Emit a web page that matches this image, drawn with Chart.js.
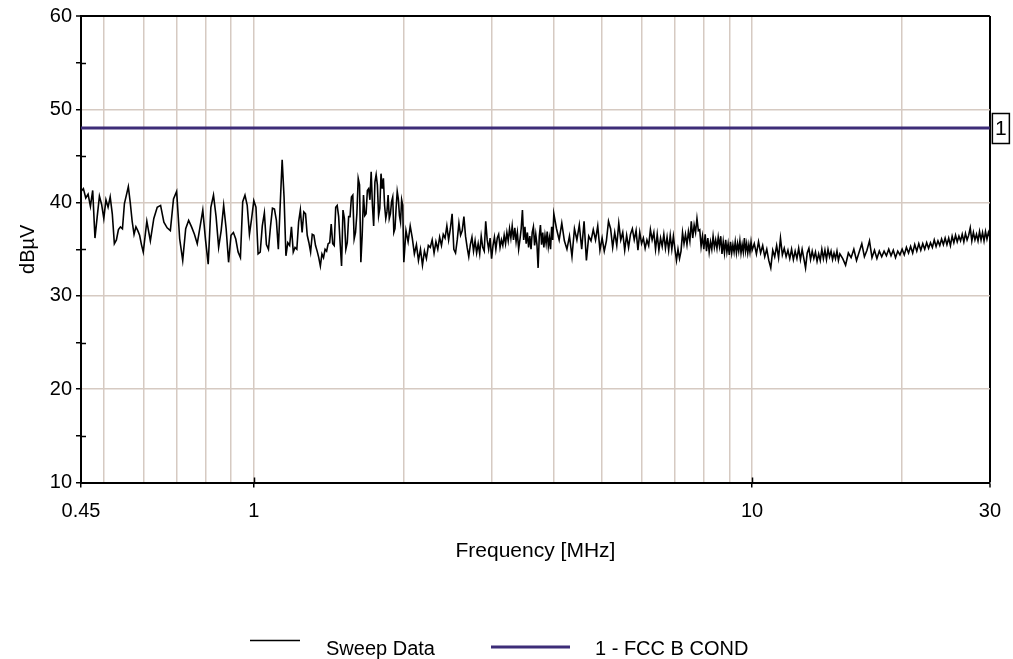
<!DOCTYPE html>
<html>
<head>
<meta charset="utf-8">
<title>Sweep Data - FCC B COND</title>
<script src="https://cdn.jsdelivr.net/npm/chart.js@4.4.1/dist/chart.umd.min.js"></script>
<style>
  html, body { margin: 0; padding: 0; background: #fff; }
  canvas { display: block; }
</style>
</head>
<body>
<canvas id="emiChart" width="1013" height="659"></canvas>
<script>
// Sweep data (MHz / dBµV)
const freqA = [0.450, 0.455, 0.460, 0.465, 0.470, 0.475, 0.480, 0.485, 0.490, 0.495,
  0.500, 0.505, 0.510, 0.515, 0.520, 0.525, 0.530, 0.535, 0.540, 0.545,
  0.550, 0.555, 0.560, 0.565, 0.570, 0.575, 0.580, 0.585, 0.590, 0.595, 0.600];
const levelA = [41.2, 41.5, 40.5, 40.9, 39.6, 41.3, 36.2, 38.5, 40.7, 39.8,
  38.3, 40.3, 39.5, 40.6, 38.8, 35.6, 36.0, 37.1, 37.4, 37.2,
  39.9, 40.8, 41.7, 40.0, 38.0, 36.6, 37.4, 37.0, 36.5, 35.5, 34.7];

const freqB = [0.61, 0.62, 0.63, 0.64, 0.65, 0.66, 0.67, 0.68, 0.69, 0.70,
  0.71, 0.72, 0.73, 0.74, 0.75, 0.76, 0.77, 0.78, 0.79, 0.80,
  0.81, 0.82, 0.83, 0.84, 0.85, 0.86, 0.87, 0.88, 0.89, 0.90,
  0.91, 0.92, 0.93, 0.94, 0.95, 0.96, 0.97, 0.98, 0.99, 1.00];
const levelB = [38.0, 35.9, 38.3, 39.5, 39.7, 37.9, 37.3, 37.0, 40.4, 41.2,
  36.1, 33.8, 37.2, 38.1, 37.4, 36.6, 35.6, 37.4, 39.2, 36.0,
  33.4, 39.5, 40.8, 38.5, 35.2, 37.0, 39.7, 37.2, 33.6, 36.5,
  36.8, 36.1, 34.7, 34.1, 40.1, 40.8, 39.7, 36.6, 38.3, 40.2];

const freqC = [1.01, 1.02, 1.03, 1.04, 1.05, 1.06, 1.07, 1.08, 1.09, 1.10,
  1.11, 1.12, 1.13, 1.14, 1.15, 1.16, 1.17, 1.18, 1.19, 1.20,
  1.21, 1.22, 1.23, 1.24, 1.25, 1.26, 1.27, 1.28, 1.29, 1.30,
  1.31, 1.32, 1.33, 1.34, 1.35, 1.36, 1.37, 1.38, 1.39, 1.40,
  1.41, 1.42, 1.43, 1.44, 1.45, 1.46, 1.47, 1.48, 1.49, 1.50,
  1.51, 1.52, 1.53, 1.54, 1.55, 1.56, 1.57, 1.58, 1.59, 1.60,
  1.61, 1.62, 1.63, 1.64, 1.65, 1.66, 1.67, 1.68, 1.69, 1.70,
  1.71, 1.72, 1.73, 1.74, 1.75, 1.76, 1.77, 1.78, 1.79, 1.80,
  1.81, 1.82, 1.83, 1.84, 1.85, 1.86, 1.87, 1.88, 1.89, 1.90,
  1.91, 1.92, 1.93, 1.94, 1.95, 1.96, 1.97, 1.98, 1.99, 2.00];
const levelC = [39.5, 34.5, 34.7, 37.5, 38.9, 35.5, 35.0, 37.4, 39.4, 39.3,
  38.1, 35.0, 39.9, 44.6, 40.6, 34.3, 35.7, 35.4, 37.4, 34.7,
  35.2, 35.0, 37.9, 39.2, 36.8, 39.0, 38.8, 36.5, 35.7, 34.7,
  36.6, 36.5, 35.4, 34.8, 34.1, 33.2, 34.5, 34.1, 35.0, 34.8,
  35.6, 35.7, 37.7, 35.6, 35.4, 39.5, 39.7, 38.5, 35.7, 33.2,
  39.2, 38.3, 35.0, 35.7, 38.5, 38.5, 40.6, 40.8, 36.1, 36.8,
  38.8, 42.6, 41.9, 33.6, 36.5, 40.8, 38.6, 38.8, 41.3, 41.5,
  40.3, 43.3, 39.7, 37.5, 42.2, 43.0, 41.9, 38.6, 39.4, 43.1,
  41.5, 42.6, 39.7, 38.3, 39.0, 40.8, 38.3, 38.8, 40.1, 40.6,
  36.8, 37.2, 39.4, 41.2, 40.4, 38.6, 37.9, 40.3, 39.7, 33.6];

const freqD = [2.02, 2.04, 2.06, 2.08, 2.10, 2.12, 2.14, 2.16, 2.18, 2.20,
  2.22, 2.24, 2.26, 2.28, 2.30, 2.32, 2.34, 2.36, 2.38, 2.40,
  2.42, 2.44, 2.46, 2.48, 2.50, 2.52, 2.54, 2.56, 2.58, 2.60,
  2.62, 2.64, 2.66, 2.68, 2.70, 2.72, 2.74, 2.76, 2.78, 2.80,
  2.82, 2.84, 2.86, 2.88, 2.90, 2.92, 2.94, 2.96, 2.98, 3.00,
  3.02, 3.04, 3.06, 3.08, 3.10, 3.12, 3.14, 3.16, 3.18, 3.20,
  3.22, 3.24, 3.26, 3.28, 3.30, 3.32, 3.34, 3.36, 3.38, 3.40,
  3.42, 3.44, 3.46, 3.48, 3.50, 3.52, 3.54, 3.56, 3.58, 3.60,
  3.62, 3.64, 3.66, 3.68, 3.70, 3.72, 3.74, 3.76, 3.78, 3.80,
  3.82, 3.84, 3.86, 3.88, 3.90, 3.92, 3.94, 3.96, 3.98, 4.00];
const levelD = [37.0, 35.8, 37.5, 36.2, 34.5, 35.5, 33.8, 35.0, 33.3, 34.8,
  34.0, 35.4, 35.2, 36.0, 34.6, 35.8, 35.0, 36.3, 35.4, 36.6,
  36.2, 37.5, 36.0, 37.2, 38.8, 35.0, 34.6, 36.0, 37.8, 36.5,
  37.0, 38.5, 36.4, 35.2, 34.2, 35.5, 36.3, 34.8, 35.9, 34.6,
  35.6, 34.5, 36.4, 35.2, 34.8, 38.0, 36.0, 35.0, 36.2, 34.0,
  35.4, 36.3, 35.0, 36.2, 36.6, 35.2, 36.0, 35.4, 36.5, 35.6,
  36.8, 35.9, 37.2, 36.2, 37.5, 36.0, 37.3, 35.8, 36.8, 35.0,
  36.0, 37.2, 39.2, 36.0, 37.4, 35.6, 36.8, 35.2, 36.4, 35.0,
  36.8, 37.4, 35.4, 36.6, 35.5, 33.0, 36.4, 37.6, 35.5, 36.8,
  35.2, 36.5, 35.6, 36.9, 35.3, 36.2, 35.0, 37.4, 36.0, 38.8];

const freqE = [4.05, 4.10, 4.15, 4.20, 4.25, 4.30, 4.35, 4.40, 4.45, 4.50,
  4.55, 4.60, 4.65, 4.70, 4.75, 4.80, 4.85, 4.90, 4.95, 5.00,
  5.05, 5.10, 5.15, 5.20, 5.25, 5.30, 5.35, 5.40, 5.45, 5.50,
  5.55, 5.60, 5.65, 5.70, 5.75, 5.80, 5.85, 5.90, 5.95, 6.00,
  6.05, 6.10, 6.15, 6.20, 6.25, 6.30, 6.35, 6.40, 6.45, 6.50,
  6.55, 6.60, 6.65, 6.70, 6.75, 6.80, 6.85, 6.90, 6.95, 7.00,
  7.05, 7.10, 7.15, 7.20, 7.25, 7.30, 7.35, 7.40, 7.45, 7.50,
  7.55, 7.60, 7.65, 7.70, 7.75, 7.80, 7.85, 7.90, 7.95, 8.00,
  8.05, 8.10, 8.15, 8.20, 8.25, 8.30, 8.35, 8.40, 8.45, 8.50,
  8.55, 8.60, 8.65, 8.70, 8.75, 8.80, 8.85, 8.90, 8.95, 9.00,
  9.05, 9.10, 9.15, 9.20, 9.25, 9.30, 9.35, 9.40, 9.45, 9.50,
  9.55, 9.60, 9.65, 9.70, 9.75, 9.80, 9.85, 9.90, 9.95, 10.00];
const levelE = [37.2, 36.0, 37.8, 35.9, 35.0, 36.4, 34.2, 37.2, 36.0, 37.6,
  35.0, 38.0, 33.8, 36.4, 35.9, 37.1, 36.0, 37.5, 34.9, 36.2,
  34.8, 35.9, 38.0, 37.2, 35.2, 36.8, 35.4, 37.8, 36.0, 36.8,
  34.9, 36.5, 35.2, 36.6, 37.2, 36.0, 37.0, 34.9, 36.8, 35.6,
  36.2, 35.1, 36.0, 35.4, 37.1, 36.0, 36.8, 35.0, 36.6, 34.9,
  36.2, 35.3, 36.6, 35.1, 36.3, 34.9, 36.5, 35.0, 36.4, 35.0,
  33.8, 35.0, 34.0, 34.8, 36.8, 35.6, 36.6, 35.5, 36.9, 35.9,
  38.0, 36.2, 37.6, 36.8, 38.3, 37.0, 37.1, 35.3, 36.4, 35.0,
  36.6, 34.8, 36.2, 34.7, 35.8, 35.0, 36.4, 35.2, 36.0, 35.1,
  36.3, 35.3, 36.4, 34.5, 35.8, 34.6, 36.0, 34.7, 35.6, 34.4,
  35.8, 34.6, 35.5, 34.7, 35.8, 34.6, 35.6, 34.8, 35.9, 34.6,
  35.5, 34.7, 36.2, 34.8, 35.6, 34.6, 35.5, 34.7, 35.8, 34.9];

const freqF = [10.1, 10.2, 10.3, 10.4, 10.5, 10.6, 10.7, 10.8, 10.9, 11.0,
  11.1, 11.2, 11.3, 11.4, 11.5, 11.6, 11.7, 11.8, 11.9, 12.0,
  12.1, 12.2, 12.3, 12.4, 12.5, 12.6, 12.7, 12.8, 12.9, 13.0,
  13.1, 13.2, 13.3, 13.4, 13.5, 13.6, 13.7, 13.8, 13.9, 14.0,
  14.1, 14.2, 14.3, 14.4, 14.5, 14.6, 14.7, 14.8, 14.9, 15.0];
const levelF = [35.6, 34.5, 35.8, 34.6, 35.4, 34.2, 35.0, 33.8, 33.0, 34.9,
  34.2, 35.4, 34.1, 36.2, 34.4, 35.1, 34.2, 34.9, 34.0, 35.0,
  33.9, 34.8, 34.0, 35.1, 33.9, 35.0, 34.0, 33.0, 34.6, 35.1,
  33.9, 34.8, 34.0, 34.7, 33.7, 34.5, 33.8, 35.0, 34.0, 34.9,
  33.9, 35.0, 34.2, 34.8, 33.9, 34.6, 34.0, 34.8, 33.8, 34.5];

const freqG = [15.2, 15.4, 15.6, 15.8, 16.0, 16.2, 16.4, 16.6, 16.8, 17.0,
  17.2, 17.4, 17.6, 17.8, 18.0, 18.2, 18.4, 18.6, 18.8, 19.0,
  19.2, 19.4, 19.6, 19.8, 20.0, 20.2, 20.4, 20.6, 20.8, 21.0,
  21.2, 21.4, 21.6, 21.8, 22.0, 22.2, 22.4, 22.6, 22.8, 23.0,
  23.2, 23.4, 23.6, 23.8, 24.0, 24.2, 24.4, 24.6, 24.8, 25.0,
  25.2, 25.4, 25.6, 25.8, 26.0, 26.2, 26.4, 26.6, 26.8, 27.0,
  27.2, 27.4, 27.6, 27.8, 28.0, 28.2, 28.4, 28.6, 28.8, 29.0,
  29.2, 29.4, 29.6, 29.8, 30.0];
const levelG = [34.0, 33.3, 34.6, 34.1, 35.0, 33.8, 34.7, 35.6, 34.2, 34.9,
  35.9, 34.1, 34.9, 34.0, 34.8, 34.2, 34.8, 34.3, 35.0, 34.3,
  34.9, 34.1, 34.8, 34.4, 35.0, 34.4, 35.2, 34.6, 35.3, 34.6,
  35.5, 34.8, 35.6, 34.9, 35.6, 35.0, 35.7, 35.1, 35.7, 35.2,
  36.0, 35.3, 35.9, 35.4, 36.1, 35.5, 36.2, 35.5, 36.2, 35.4,
  36.4, 35.7, 36.5, 35.8, 36.4, 35.9, 36.6, 35.8, 36.7, 36.0,
  36.5, 37.3, 35.9, 36.8, 36.0, 36.6, 35.9, 36.9, 36.0, 36.8,
  35.9, 36.9, 36.1, 36.8, 36.3];

// Limit line
const limitFreq = [0.45, 30];
const limitLevel = [48, 48];
const limitTag = '1';

// Axes
const xGridTicks = [0.45, 0.5, 0.6, 0.7, 0.8, 0.9, 1, 2, 3, 4, 5, 6, 7, 8, 9, 10, 20, 30];
const xTickLabels = [0.45, 1, 10, 30];
const yMin = 10, yMax = 60, yStep = 5;

const legendItems = ['Sweep Data', '1 - FCC B COND'];

const GRID = '#d6cac2';
const LIMIT_COLOR = '#3d2d78';

const sweepFreq = [].concat(freqA, freqB, freqC, freqD, freqE, freqF, freqG);
const sweepLevel = [].concat(levelA, levelB, levelC, levelD, levelE, levelF, levelG);

Chart.defaults.font.family = '"Liberation Sans", Arial, sans-serif';
Chart.defaults.font.size = 20;
Chart.defaults.color = '#000';

// Ticks that cross the axis, the limit tag box and the bottom legend
const decorPlugin = {
    id: 'decor',
    afterDraw(chart) {
        const { ctx, chartArea, scales } = chart;
        const xs = scales.x, ys = scales.y;
        ctx.save();
        ctx.strokeStyle = '#000';
        ctx.lineWidth = 1.5;

        // inner half of the minor y ticks
        for (let v = yMin + yStep; v < yMax; v += 2 * yStep) {
            const y = Math.round(ys.getPixelForValue(v)) + 0.5;
            ctx.beginPath();
            ctx.moveTo(chartArea.left, y);
            ctx.lineTo(chartArea.left + 5, y);
            ctx.stroke();
        }
        // inner half of labelled x ticks
        xTickLabels.slice(1, -1).forEach((v) => {
            const x = Math.round(xs.getPixelForValue(v)) + 0.5;
            ctx.beginPath();
            ctx.moveTo(x, chartArea.bottom);
            ctx.lineTo(x, chartArea.bottom - 5);
            ctx.stroke();
        });

        // limit tag
        const ly = ys.getPixelForValue(limitLevel[limitLevel.length - 1]);
        ctx.strokeRect(chartArea.right + 2.5, Math.round(ly) - 14.5, 17, 30);
        ctx.fillStyle = '#000';
        ctx.font = '21px "Liberation Sans", Arial, sans-serif';
        ctx.textAlign = 'center';
        ctx.textBaseline = 'middle';
        ctx.fillText(limitTag, chartArea.right + 11, ly + 1);

        // legend
        ctx.textAlign = 'left';
        ctx.textBaseline = 'alphabetic';
        ctx.font = '20px "Liberation Sans", Arial, sans-serif';
        ctx.lineWidth = 1.5;
        ctx.strokeStyle = '#000';
        ctx.beginPath();
        ctx.moveTo(250, 640.5);
        ctx.lineTo(300, 640.5);
        ctx.stroke();
        ctx.fillText(legendItems[0], 326, 655);

        ctx.lineWidth = 3;
        ctx.strokeStyle = LIMIT_COLOR;
        ctx.beginPath();
        ctx.moveTo(491, 647);
        ctx.lineTo(570, 647);
        ctx.stroke();
        ctx.fillText(legendItems[1], 595, 655);
        ctx.restore();
    },
};

const ctx = document.getElementById('emiChart').getContext('2d');
const emiChart = new Chart(ctx, {
    type: 'line',
    data: {
        datasets: [
            {
                label: legendItems[0],
                data: sweepFreq.map((f, i) => ({ x: f, y: sweepLevel[i] })),
                borderColor: '#000',
                borderWidth: 1.6,
                pointRadius: 0,
                tension: 0,
                fill: false,
            },
            {
                label: legendItems[1],
                data: limitFreq.map((f, i) => ({ x: f, y: limitLevel[i] })),
                borderColor: LIMIT_COLOR,
                borderWidth: 3,
                pointRadius: 0,
                fill: false,
            },
        ],
    },
    options: {
        responsive: false,
        animation: false,
        devicePixelRatio: 1,
        layout: { padding: { left: 0, right: 21, top: 13, bottom: 0 } },
        plugins: {
            legend: { display: false },
            tooltip: { enabled: false },
        },
        scales: {
            x: {
                type: 'logarithmic',
                min: 0.45,
                max: 30,
                afterBuildTicks: (scale) => {
                    scale.ticks = xGridTicks.map((v) => ({ value: v }));
                },
                afterFit: (scale) => { scale.height = 176.5; },
                border: { color: '#000', width: 2 },
                grid: {
                    color: (c) => {
                        const v = c.tick && c.tick.value;
                        if (v === 30) return '#000';
                        if (v === 0.45) return 'rgba(0,0,0,0)';
                        return GRID;
                    },
                    lineWidth: (c) => (c.tick && c.tick.value === 30 ? 2 : 1.5),
                    drawTicks: true,
                    tickLength: 5,
                    tickWidth: 1.5,
                    tickColor: (c) => (xTickLabels.includes(c.tick && c.tick.value) ? '#000' : 'rgba(0,0,0,0)'),
                },
                ticks: {
                    autoSkip: false,
                    maxRotation: 0,
                    padding: 12,
                    callback: (val) => (xTickLabels.includes(val) ? String(val) : ''),
                },
                title: {
                    display: true,
                    text: 'Frequency [MHz]',
                    font: { size: 21 },
                    padding: { top: 0, bottom: 95 },
                },
            },
            y: {
                type: 'linear',
                min: yMin,
                max: yMax,
                afterFit: (scale) => { scale.width = 81; },
                border: { color: '#000', width: 2 },
                grid: {
                    color: (c) => {
                        const v = c.tick && c.tick.value;
                        if (v === yMax) return '#000';
                        if (v === yMin || v % 10 !== 0) return 'rgba(0,0,0,0)';
                        return GRID;
                    },
                    lineWidth: (c) => (c.tick && c.tick.value === yMax ? 2 : 1.5),
                    drawTicks: true,
                    tickLength: 5,
                    tickWidth: 1.5,
                    tickColor: '#000',
                },
                ticks: {
                    stepSize: yStep,
                    autoSkip: false,
                    padding: 4,
                    callback: (val) => (val % 10 === 0 ? String(val) : ''),
                },
                title: {
                    display: true,
                    text: 'dBµV',
                    font: { size: 20 },
                    padding: { top: 16, bottom: 0 },
                },
            },
        },
    },
    plugins: [decorPlugin],
});
</script>
</body>
</html>
